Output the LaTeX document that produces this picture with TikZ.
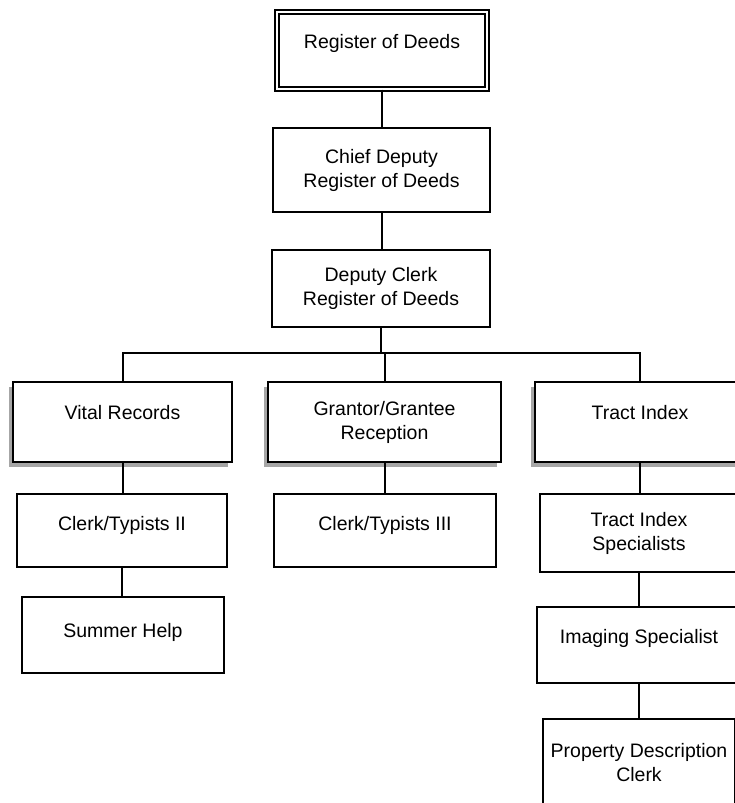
\documentclass[tikz,border=0pt]{standalone}
\usepackage{fontspec}
\setmainfont{Liberation Sans}
\usetikzlibrary{shadows}
\begin{document}
\begin{tikzpicture}[x=1pt,y=-1pt,
  every node/.style={font=\fontsize{19.5}{24}\selectfont},
  box/.style={draw=black, line width=2pt, fill=white, inner xsep=2pt, inner ysep=0pt, align=center},
  shad/.style={drop shadow={shadow xshift=-4.5pt, shadow yshift=-4.5pt, fill=gray!70, opacity=1}},
  conn/.style={draw=black, line width=2pt}]
\useasboundingbox (0,0) rectangle (735,803);
\clip (0,0) rectangle (735,803);

\node[box, double, double distance=2pt, line width=2pt, minimum width=210pt, text height=36.5pt, text depth=40.5pt] (rod) at (382,50) {Register of Deeds};
\node[box, minimum width=217pt, minimum height=84pt] (chief) at (381.5,170) {Chief Deputy\\Register of Deeds};
\node[box, minimum width=218pt, minimum height=77pt] (deputy) at (381,288.5) {Deputy Clerk\\Register of Deeds};

\node[box, shad, minimum width=219pt, text height=37pt, text depth=43pt] (vital) at (122.5,422) {Vital Records};
\node[box, shad, minimum width=233pt, minimum height=80pt] (grantor) at (384.5,422) {Grantor/Grantee\\Reception};
\node[box, shad, minimum width=210pt, text height=37pt, text depth=43pt] (tract) at (640,422) {Tract Index};

\node[box, minimum width=210pt, text height=36pt, text depth=37pt] (clerk2) at (122,530.5) {Clerk/Typists II};
\node[box, minimum width=202pt, text height=40pt, text depth=36pt] (summer) at (123,635) {Summer Help};
\node[box, minimum width=222pt, text height=36pt, text depth=37pt] (clerk3) at (385,530.5) {Clerk/Typists III};
\node[box, minimum width=198pt, minimum height=78pt] (tis) at (639,533) {Tract Index\\Specialists};
\node[box, minimum width=204pt, text height=36pt, text depth=40pt] (imaging) at (639,645) {Imaging Specialist};
\node[box, minimum width=192pt, minimum height=87pt] (property) at (639,762.5) {Property Description\\Clerk};

\coordinate (bus) at (381,353);

\draw[conn] (rod.south) -- (rod.south |- chief.north);
\draw[conn] (chief.south) -- (chief.south |- deputy.north);
\draw[conn] (deputy.south) -- (bus);
\draw[conn] (bus) -| (vital.north);
\draw[conn] (bus) -| (grantor.north);
\draw[conn] (bus) -| (tract.north);
\draw[conn] (vital.south) -- (vital.south |- clerk2.north);
\draw[conn] (clerk2.south) -- (clerk2.south |- summer.north);
\draw[conn] (grantor.south) -- (grantor.south |- clerk3.north);
\draw[conn] (tract.south) -- (tract.south |- tis.north);
\draw[conn] (tis.south) -- (tis.south |- imaging.north);
\draw[conn] (imaging.south) -- (imaging.south |- property.north);
\end{tikzpicture}
\end{document}
